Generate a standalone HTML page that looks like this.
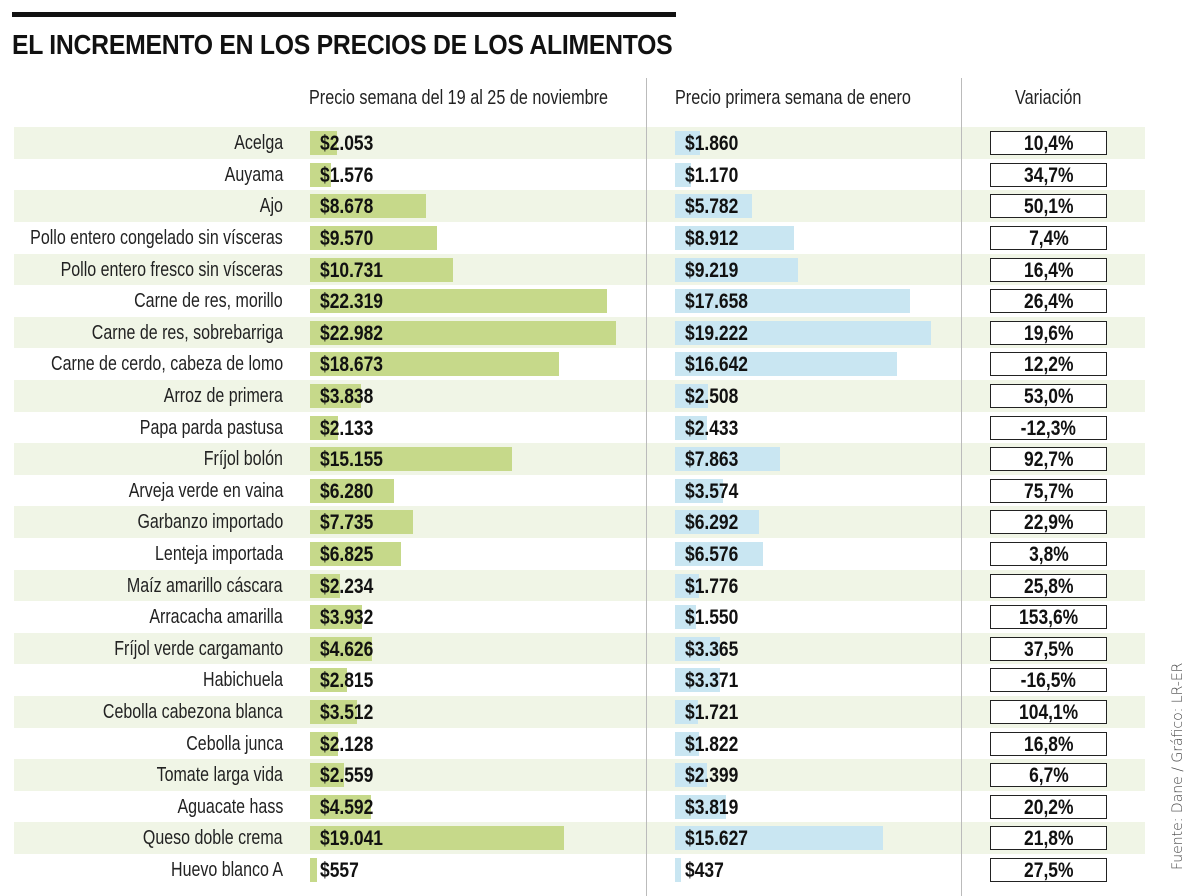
<!DOCTYPE html>
<html><head><meta charset="utf-8"><style>
body{margin:0;width:1200px;height:896px;background:#fff;position:relative;overflow:hidden;font-family:"Liberation Sans",sans-serif;color:#111}
.bar{position:absolute;background:#111;left:12px;top:12px;width:664px;height:5px}
.t{position:absolute;left:12px;top:29px;font-size:28px;font-weight:bold;letter-spacing:-0.3px;white-space:nowrap;transform:scaleX(0.885);transform-origin:0 0}
.h{position:absolute;top:87px;font-size:20px;color:#222;white-space:nowrap;transform:scaleX(0.81);transform-origin:0 0}
.v{position:absolute;width:1px;background:#bbb;top:78px;height:818px}
.r{position:absolute;left:0;width:1200px;height:31.6px}
.b::before{content:"";position:absolute;left:14px;width:1131px;top:0;height:31.6px;background:#f0f5e6}
.r span{position:absolute;top:1px;line-height:31.6px;white-space:nowrap}
.l{right:917px;font-size:20px;color:#222;transform:scaleX(0.8);transform-origin:100% 50%}
.g,.u{position:absolute;top:4px;height:24px}
.g{background:#c6d98a;left:310px}
.u{background:#c9e6f2;left:675px}
.p{font-size:21px;font-weight:bold;transform:scaleX(0.83);transform-origin:0 50%}
.p1{left:320px}
.p2{left:685px}
.x{position:absolute;left:990px;top:4px;width:115px;height:22px;border:1px solid #222;background:#fff;text-align:center;font-size:21px;font-weight:bold;line-height:23px}
.x i{font-style:normal;display:inline-block;transform:scaleX(0.83)}
.s{position:absolute;left:1170px;top:870px;transform:rotate(-90deg);transform-origin:0 0;font-family:"DejaVu Sans",sans-serif;font-size:14px;color:#444;white-space:nowrap;font-weight:300}
</style></head><body>
<div class="bar"></div>
<div class="t">EL INCREMENTO EN LOS PRECIOS DE LOS ALIMENTOS</div>
<div class="h" style="left:309px">Precio semana del 19 al 25 de noviembre</div>
<div class="h" style="left:675px">Precio primera semana de enero</div>
<div class="h" style="left:1015px">Variación</div>

<div class="r b" style="top:127.2px"><span class="l">Acelga</span><div class="g" style="width:27px"></div><span class="p p1">$2.053</span><div class="u" style="width:25px"></div><span class="p p2">$1.860</span><div class="x"><i>10,4%</i></div></div>
<div class="r" style="top:158.8px"><span class="l">Auyama</span><div class="g" style="width:21px"></div><span class="p p1">$1.576</span><div class="u" style="width:16px"></div><span class="p p2">$1.170</span><div class="x"><i>34,7%</i></div></div>
<div class="r b" style="top:190.4px"><span class="l">Ajo</span><div class="g" style="width:116px"></div><span class="p p1">$8.678</span><div class="u" style="width:77px"></div><span class="p p2">$5.782</span><div class="x"><i>50,1%</i></div></div>
<div class="r" style="top:222px"><span class="l">Pollo entero congelado sin vísceras</span><div class="g" style="width:127px"></div><span class="p p1">$9.570</span><div class="u" style="width:119px"></div><span class="p p2">$8.912</span><div class="x"><i>7,4%</i></div></div>
<div class="r b" style="top:253.6px"><span class="l">Pollo entero fresco sin vísceras</span><div class="g" style="width:143px"></div><span class="p p1">$10.731</span><div class="u" style="width:123px"></div><span class="p p2">$9.219</span><div class="x"><i>16,4%</i></div></div>
<div class="r" style="top:285.2px"><span class="l">Carne de res, morillo</span><div class="g" style="width:297px"></div><span class="p p1">$22.319</span><div class="u" style="width:235px"></div><span class="p p2">$17.658</span><div class="x"><i>26,4%</i></div></div>
<div class="r b" style="top:316.8px"><span class="l">Carne de res, sobrebarriga</span><div class="g" style="width:306px"></div><span class="p p1">$22.982</span><div class="u" style="width:256px"></div><span class="p p2">$19.222</span><div class="x"><i>19,6%</i></div></div>
<div class="r" style="top:348.4px"><span class="l">Carne de cerdo, cabeza de lomo</span><div class="g" style="width:249px"></div><span class="p p1">$18.673</span><div class="u" style="width:222px"></div><span class="p p2">$16.642</span><div class="x"><i>12,2%</i></div></div>
<div class="r b" style="top:380px"><span class="l">Arroz de primera</span><div class="g" style="width:51px"></div><span class="p p1">$3.838</span><div class="u" style="width:33px"></div><span class="p p2">$2.508</span><div class="x"><i>53,0%</i></div></div>
<div class="r" style="top:411.6px"><span class="l">Papa parda pastusa</span><div class="g" style="width:28px"></div><span class="p p1">$2.133</span><div class="u" style="width:32px"></div><span class="p p2">$2.433</span><div class="x"><i>-12,3%</i></div></div>
<div class="r b" style="top:443.2px"><span class="l">Fríjol bolón</span><div class="g" style="width:202px"></div><span class="p p1">$15.155</span><div class="u" style="width:105px"></div><span class="p p2">$7.863</span><div class="x"><i>92,7%</i></div></div>
<div class="r" style="top:474.8px"><span class="l">Arveja verde en vaina</span><div class="g" style="width:84px"></div><span class="p p1">$6.280</span><div class="u" style="width:48px"></div><span class="p p2">$3.574</span><div class="x"><i>75,7%</i></div></div>
<div class="r b" style="top:506.4px"><span class="l">Garbanzo importado</span><div class="g" style="width:103px"></div><span class="p p1">$7.735</span><div class="u" style="width:84px"></div><span class="p p2">$6.292</span><div class="x"><i>22,9%</i></div></div>
<div class="r" style="top:538px"><span class="l">Lenteja importada</span><div class="g" style="width:91px"></div><span class="p p1">$6.825</span><div class="u" style="width:88px"></div><span class="p p2">$6.576</span><div class="x"><i>3,8%</i></div></div>
<div class="r b" style="top:569.6px"><span class="l">Maíz amarillo cáscara</span><div class="g" style="width:30px"></div><span class="p p1">$2.234</span><div class="u" style="width:24px"></div><span class="p p2">$1.776</span><div class="x"><i>25,8%</i></div></div>
<div class="r" style="top:601.2px"><span class="l">Arracacha amarilla</span><div class="g" style="width:52px"></div><span class="p p1">$3.932</span><div class="u" style="width:21px"></div><span class="p p2">$1.550</span><div class="x"><i>153,6%</i></div></div>
<div class="r b" style="top:632.8px"><span class="l">Fríjol verde cargamanto</span><div class="g" style="width:62px"></div><span class="p p1">$4.626</span><div class="u" style="width:45px"></div><span class="p p2">$3.365</span><div class="x"><i>37,5%</i></div></div>
<div class="r" style="top:664.4px"><span class="l">Habichuela</span><div class="g" style="width:37px"></div><span class="p p1">$2.815</span><div class="u" style="width:45px"></div><span class="p p2">$3.371</span><div class="x"><i>-16,5%</i></div></div>
<div class="r b" style="top:696px"><span class="l">Cebolla cabezona blanca</span><div class="g" style="width:47px"></div><span class="p p1">$3.512</span><div class="u" style="width:23px"></div><span class="p p2">$1.721</span><div class="x"><i>104,1%</i></div></div>
<div class="r" style="top:727.6px"><span class="l">Cebolla junca</span><div class="g" style="width:28px"></div><span class="p p1">$2.128</span><div class="u" style="width:24px"></div><span class="p p2">$1.822</span><div class="x"><i>16,8%</i></div></div>
<div class="r b" style="top:759.2px"><span class="l">Tomate larga vida</span><div class="g" style="width:34px"></div><span class="p p1">$2.559</span><div class="u" style="width:32px"></div><span class="p p2">$2.399</span><div class="x"><i>6,7%</i></div></div>
<div class="r" style="top:790.8px"><span class="l">Aguacate hass</span><div class="g" style="width:61px"></div><span class="p p1">$4.592</span><div class="u" style="width:51px"></div><span class="p p2">$3.819</span><div class="x"><i>20,2%</i></div></div>
<div class="r b" style="top:822.4px"><span class="l">Queso doble crema</span><div class="g" style="width:254px"></div><span class="p p1">$19.041</span><div class="u" style="width:208px"></div><span class="p p2">$15.627</span><div class="x"><i>21,8%</i></div></div>
<div class="r" style="top:854px"><span class="l">Huevo blanco A</span><div class="g" style="width:7px"></div><span class="p p1">$557</span><div class="u" style="width:6px"></div><span class="p p2">$437</span><div class="x"><i>27,5%</i></div></div>

<div class="v" style="left:646px"></div>
<div class="v" style="left:961px"></div>
<div class="s">Fuente: Dane / Gráfico: LR-ER</div>
</body></html>
